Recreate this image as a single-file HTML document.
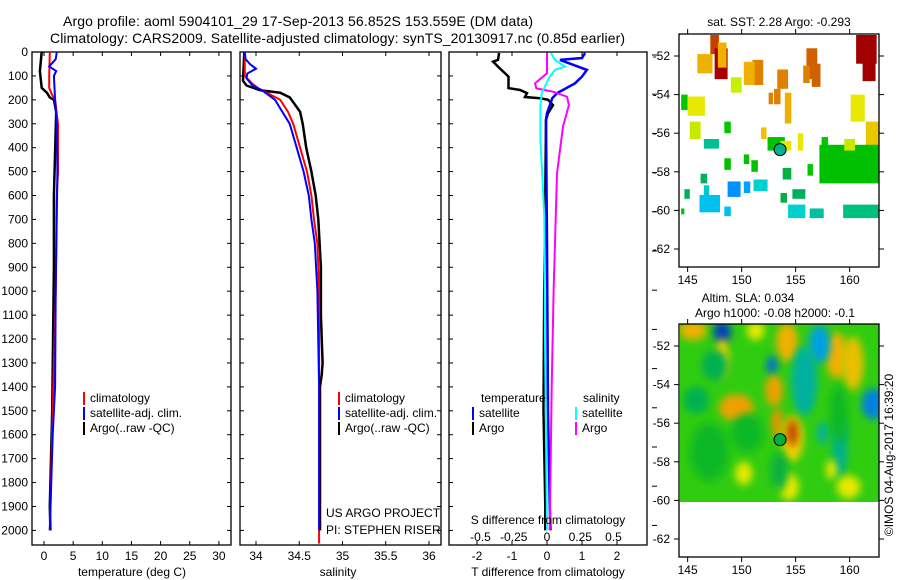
<!DOCTYPE html>
<html><head><meta charset="utf-8"><style>
body{margin:0;background:#fff;}
svg{display:block;font-family:"Liberation Sans",sans-serif;}
text{fill:#000;}
</style></head><body>
<svg id="fig" width="900" height="580" viewBox="0 0 900 580">
<defs><filter id="bl" x="-50%" y="-50%" width="200%" height="200%"><feGaussianBlur stdDeviation="4"/></filter>
<clipPath id="c2"><rect x="680" y="324" width="199" height="178"/></clipPath>
<clipPath id="c1"><rect x="680" y="35" width="199" height="232"/></clipPath></defs>
<text x="63" y="26" font-size="14" textLength="470">Argo profile: aoml 5904101_29 17-Sep-2013 56.852S 153.559E (DM data)</text>
<text x="50" y="43" font-size="14" textLength="575">Climatology: CARS2009. Satellite-adjusted climatology: synTS_20130917.nc (0.85d earlier)</text>
<g id="plots"></g>
</svg>
<script>
// ---- data ----
const tempDepth_argo=[0,80,150,170,190,200,250,600,900,1500,1900,2000];
const temp_argo=[-0.4,-0.7,-0.4,0.5,1.0,1.7,2.1,1.7,1.7,1.4,1.0,1.1];
const tempDepth_clim=[0,100,150,180,200,300,500,600,1000,1500,2000];
const temp_clim=[1.0,0.9,0.9,1.4,1.9,2.4,2.4,2.2,2.0,1.5,1.0];
const tempDepth_sat=[0,30,60,80,100,200,300,500,1000,1400,1600,2000];
const temp_sat=[2.2,2.0,0.9,2.1,1.7,1.9,2.2,2.3,2.0,1.9,1.5,1.0];
const salDepth_argo=[0,120,140,160,170,190,210,250,300,400,500,600,700,900,1100,1300,1350,1400,2000];
const sal_argo=[33.865,33.85,33.89,34.05,34.28,34.39,34.43,34.51,34.54,34.58,34.64,34.69,34.72,34.75,34.75,34.77,34.76,34.74,34.74];
const salDepth_clim=[0,100,130,150,200,250,300,400,500,600,700,800,900,1000,2055];
const sal_clim=[33.87,33.87,33.95,34.02,34.28,34.37,34.43,34.51,34.59,34.64,34.67,34.71,34.72,34.73,34.73];
const salDepth_sat=[0,30,50,70,90,110,140,160,200,300,400,500,600,700,800,1000,1400,2000];
const sal_sat=[33.87,33.88,33.93,34.0,33.9,33.89,33.96,34.07,34.22,34.39,34.47,34.55,34.61,34.64,34.68,34.71,34.73,34.73];
const dDepth_Targo=[4,33,40,61,103,151,159,172,188,193,200,222,256,284,600,1000,1500,1900,2000];
const dT_argo=[-1.37,-1.4,-1.54,-1.4,-1.1,-1.1,-0.77,-0.57,-0.63,-0.2,0.03,0.17,0.03,-0.03,-0.05,-0.08,-0.1,-0.05,-0.05];
const dDepth_Tsat=[4,25,33,75,103,131,172,193,256,284,800,1500,1900,2000];
const dT_sat=[1.09,1.0,0.37,1.14,1.0,0.8,0.29,0.15,0.0,-0.03,0.0,0.03,0.08,0.1];
const dDepth_Sargo=[4,89,131,152,166,187,222,312,507,1000,1400,2000];
const dS_argo=[0.0,0.0,-0.09,-0.08,0.045,0.15,0.165,0.12,0.075,0.05,0.035,0.02];
const dDepth_Ssat=[4,33,61,75,103,172,228,368,575,687,1200,2000];
const dS_sat=[0.03,0.06,0.135,0.06,0.02,-0.04,-0.05,-0.05,-0.03,-0.02,-0.015,0.0];
const depthTicks=[0,100,200,300,400,500,600,700,800,900,1000,1100,1200,1300,1400,1500,1600,1700,1800,1900,2000];
const tempTicks=[0,5,10,15,20,25,30];
const salTicks=[34,34.5,35,35.5,36];
const salTickLabels=["34","34.5","35","35.5","36"];
const dTTicks=[-2,-1,0,1,2];
const dSTicks=[-0.5,-0.25,0,0.25,0.5];
const dSTickLabels=["-0.5","-0.25","0","0.25","0.5"];
const latTicks=[-52,-54,-56,-58,-60,-62];
const lonTicks=[145,150,155,160];
// SST obs patches: [lon0, lat0(top), widthDeg, heightDeg, color]
const sstLon=[160.6,161.2,147.1,147.5,145.9,151.0,153.3,156.0,155.7,153.0,154.0,152.5,149.0,144.4,145.0,160.1,161.5,145.2,148.4,152.4,151.8,153.6,155.2,157.4,157.2,159.5,146.5,148.4,150.2,150.9,153.8,146.2,146.5,144.7,154.7,156.1,153.6,148.7,150.2,151.1,146.1,148.4,154.3,156.3,159.4,144.4,147.8,150.2,156.5];
const sstLat=[-50.9,-52.3,-50.9,-51.6,-51.9,-52.2,-52.7,-51.6,-52.5,-53.7,-53.9,-53.9,-53.1,-54.0,-54.1,-54.0,-55.4,-55.4,-55.4,-56.2,-55.7,-56.4,-56.0,-56.2,-56.6,-56.3,-56.3,-57.3,-57.1,-57.4,-57.8,-58.1,-58.7,-58.9,-58.9,-57.6,-59.1,-58.5,-58.5,-58.4,-59.2,-59.8,-59.7,-59.9,-59.7,-59.9,-51.3,-52.3,-52.4];
const sstW=[1.9,1.2,0.8,1.2,1.4,1.0,1.0,1.0,0.6,0.6,0.6,0.4,1.0,0.6,1.6,1.3,1.2,1.0,0.6,1.6,0.5,1.0,0.5,0.6,5.6,1.0,1.4,0.6,0.5,0.6,0.8,0.6,0.5,0.5,1.2,0.5,0.6,1.2,0.6,1.3,1.9,0.6,1.6,1.3,3.3,0.3,0.8,1.0,0.8];
const sstH=[1.5,1.0,1.0,1.6,1.0,1.3,1.0,1.6,0.9,0.8,1.6,0.6,0.8,0.8,1.0,1.4,1.8,0.9,0.6,0.7,0.6,0.5,0.9,0.6,2.0,0.6,0.5,0.6,0.5,0.6,0.6,0.5,0.6,0.5,0.5,0.6,0.5,0.8,0.6,0.6,0.9,0.5,0.7,0.5,0.7,0.3,1.3,1.2,1.2];
const sstC=["#a00000","#a00000","#c84000","#a80000","#f0b000","#e08000","#e08000","#d06000","#e08000","#e08000","#f0b000","#e08000","#c8f000","#00c800","#e8e800","#e8e800","#e8c800","#c8e800","#00c800","#00c000","#f0c000","#e8e800","#e8e800","#00c800","#00c000","#c8e800","#00c090","#00c000","#00c000","#00c000","#00b040","#00b060","#00c8c8","#00b060","#00b060","#00c800","#00b040","#0090ff","#00a0ff","#00d0d0","#00c0f0","#00c0f0","#00d0d0","#00c0a0","#00c080","#00c000","#f0b000","#f0b000","#d06000"];
// SLA anomaly blobs: [lon, lat, rxDeg, ryDeg, color]
const slaLon=[145.5,148.2,148.2,151.3,154.2,158.8,157.2,155.8,152.8,160.3,149.5,153.0,153.3,154.7,154.7,162.2,159.1,157.5,150.2,154.4,159.9,158.3,145.8,147.5,147.0,150.5,153.5,159.0];
const slaLat=[-51.2,-51.3,-52.6,-51.2,-51.8,-52.5,-51.9,-53.8,-53.0,-52.9,-55.2,-54.3,-56.0,-56.8,-56.5,-55.0,-57.2,-56.5,-58.6,-59.3,-59.3,-58.4,-54.8,-53.0,-57.5,-56.5,-58.5,-55.5];
const slaRx=[1.3,0.8,0.6,0.8,1.0,1.0,1.0,1.2,0.5,1.0,1.6,0.8,0.5,1.0,0.5,1.1,0.7,0.5,0.8,0.9,1.1,0.5,1.2,1.2,1.8,1.5,0.8,0.8];
const slaRy=[0.5,0.6,1.0,0.5,1.0,1.2,1.0,1.8,0.5,1.4,0.7,0.8,0.8,1.2,0.7,0.8,1.6,0.6,0.6,0.7,0.6,0.5,0.7,0.8,1.5,1.0,1.0,1.5];
const slaC=["#f0b000","#0040c0","#f0d000","#e8e800","#f0b000","#f0b000","#00a0e0","#00b0a0","#0070d0","#e8c000","#f0a000","#f0a000","#f09000","#f0d000","#c04000","#0080e0","#00b090","#00b0a0","#e8e800","#e8e800","#e8e800","#e8e800","#00b050","#00b050","#10b828","#10b828","#10b040","#10b828"];
const argoLon=153.559, argoLat=-56.852;

// ---- drawing ----
const NS='http://www.w3.org/2000/svg';
const root=document.getElementById('plots');
function mk(tag,attrs,parent){const e=document.createElementNS(NS,tag);for(const k in attrs)e.setAttribute(k,attrs[k]);(parent||root).appendChild(e);return e;}
function txt(x,y,s,size,anchor,parent){const e=mk('text',{x:x,y:y,'font-size':size||13,'text-anchor':anchor||'start'},parent);e.textContent=s;return e;}
const Y0=52,YS=0.2392,YB=545;
const yD=d=>Y0+YS*d;
const xT=t=>44+5.83*t;
const xS=s=>256+86.5*(s-34);
const xDT=t=>547+35*t;
const xDS=s=>547+133*s;
function line(xs,ds,fx,color,w,name){
  const pts=xs.map((v,i)=>fx(v).toFixed(1)+','+yD(ds[i]).toFixed(1)).join(' ');
  const p=mk('polyline',{points:pts,fill:'none',stroke:color,'stroke-width':w||2});
  
  
}
function frame(x0,x1,name){
  const r=mk('rect',{x:x0,y:Y0,width:x1-x0,height:YB-Y0,fill:'none',stroke:'#000','stroke-width':1.3});
  
  
}
function xticks(vals,f,labels,y,name){
  const g=mk('g',{});
  
  
  vals.forEach((v,i)=>{const x=f(v);mk('line',{x1:x,x2:x,y1:Y0,y2:Y0+4,stroke:'#000'},g);mk('line',{x1:x,x2:x,y1:YB,y2:YB-4,stroke:'#000'},g);if(labels)txt(x,y,labels[i],12,'middle',g);});
}
// panel 1
frame(32,231,'temperature-panel');
const yt=mk('g',{});


depthTicks.forEach(d=>{const y=yD(d);mk('line',{x1:32,x2:36,y1:y,y2:y,stroke:'#000'},yt);mk('line',{x1:227,x2:231,y1:y,y2:y,stroke:'#000'},yt);txt(28,y+4,String(d),12,'end',yt);});
xticks(tempTicks,xT,tempTicks.map(String),560,'temperature-x-axis');
line(temp_argo,tempDepth_argo,xT,'#000',2.5,'argo-temperature-line');
line(temp_clim,tempDepth_clim,xT,'#f00',2,'climatology-temperature-line');
line(temp_sat,tempDepth_sat,xT,'#00f',2,'satellite-temperature-line');
txt(132,576,'temperature (deg C)',12,'middle');
function legend(x,y,items,name){
  const g=mk('g',{});
  
  
  items.forEach((it,i)=>{mk('rect',{x:x,y:y+i*15-10,width:2,height:13,fill:it[1]},g);txt(x+7,y+i*15,it[0],12,'start',g);});
}
legend(83,402,[['climatology','#f00'],['satellite-adj. clim.','#00f'],['Argo(..raw -QC)','#000']],'temperature-legend');
// panel 2
frame(240,441,'salinity-panel');
depthTicks.forEach(d=>{const y=yD(d);mk('line',{x1:240,x2:244,y1:y,y2:y,stroke:'#000'});mk('line',{x1:437,x2:441,y1:y,y2:y,stroke:'#000'});});
xticks(salTicks,xS,salTickLabels,560,'salinity-x-axis');
line(sal_argo,salDepth_argo,xS,'#000',2.5,'argo-salinity-line');
line(sal_clim,salDepth_clim,xS,'#f00',2,'climatology-salinity-line');
line(sal_sat,salDepth_sat,xS,'#00f',2,'satellite-salinity-line');
txt(338,576,'salinity',12,'middle');
legend(338,402,[['climatology','#f00'],['satellite-adj. clim.','#00f'],['Argo(..raw -QC)','#000']],'salinity-legend');
txt(326,517,'US ARGO PROJECT',12);
txt(326,534,'PI: STEPHEN RISER',12);
// panel 3
frame(449,647,'difference-panel');
for(let y=55;y<=545;y+=39.2){mk('line',{x1:652,x2:657,y1:y,y2:y,stroke:'#000'});}
depthTicks.forEach(d=>{const y=yD(d);mk('line',{x1:449,x2:453,y1:y,y2:y,stroke:'#000'});});
xticks(dTTicks,xDT,dTTicks.map(String),560,'t-difference-x-axis');
const sg=mk('g',{});


dSTicks.forEach((v,i)=>txt(xDS(v),541,dSTickLabels[i],12,'middle',sg));
line(dT_argo,dDepth_Targo,xDT,'#000',2.5,'argo-t-difference-line');
line(dT_sat,dDepth_Tsat,xDT,'#00f',2.5,'satellite-t-difference-line');
line(dS_argo,dDepth_Sargo,xDS,'#f0f',2,'argo-s-difference-line');
line(dS_sat,dDepth_Ssat,xDS,'#0ff',2,'satellite-s-difference-line');
txt(548,576,'T difference from climatology',12,'middle');
txt(548,524,'S difference from climatology',12,'middle');
txt(481,402,'temperature',12);
txt(583,402,'salinity',12);
legend(472,417,[['satellite','#00f'],['Argo','#000']],'t-difference-legend');
legend(575,417,[['satellite','#0ff'],['Argo','#f0f']],'s-difference-legend');
// maps
const mx=lon=>679+(lon-144.2)*10.8;
const my=(lat,off)=>34+off+(-50.86-lat)*19.3;
function mapAxes(off,name){
  const g=mk('g',{});
  
  
  mk('rect',{x:679,y:34+off,width:200,height:233,fill:'none',stroke:'#000','stroke-width':1.3},g);
  latTicks.forEach(l=>{const y=my(l,off);mk('line',{x1:674,x2:679,y1:y,y2:y,stroke:'#000'},g);mk('line',{x1:879,x2:884,y1:y,y2:y,stroke:'#000'},g);txt(670,y+4,String(l),12,'end',g);});
  lonTicks.forEach(l=>{const x=mx(l);mk('line',{x1:x,x2:x,y1:29+off,y2:34+off,stroke:'#000'},g);mk('line',{x1:x,x2:x,y1:267+off,y2:272+off,stroke:'#000'},g);txt(x,284+off,String(l),12,'middle',g);});
}
const g1=mk('g',{'clip-path':'url(#c1)'});


sstLon.forEach((lon,i)=>{const r=mk('rect',{x:mx(lon),y:my(sstLat[i],0),width:sstW[i]*10.8,height:sstH[i]*19.3,fill:sstC[i]},g1);

});
mk('circle',{cx:mx(argoLon),cy:my(argoLat,0),r:6,fill:'#00b090',stroke:'#000'});
mapAxes(0,'sst-map-axes');
txt(779,26,'sat. SST: 2.28 Argo: -0.293',12,'middle');
const g2=mk('g',{'clip-path':'url(#c2)'});


mk('rect',{x:679,y:324,width:200,height:178,fill:'#30cc10'},g2);
slaLon.forEach((lon,i)=>{const e=mk('ellipse',{cx:mx(lon),cy:my(slaLat[i],290),rx:slaRx[i]*10.8,ry:slaRy[i]*19.3,fill:slaC[i],filter:'url(#bl)'},g2);

});
mk('circle',{cx:mx(argoLon),cy:my(argoLat,290),r:6,fill:'#00b040',stroke:'#000'});
mapAxes(290,'sla-map-axes');
txt(748,302,'Altim. SLA: 0.034',12,'middle');
txt(775,317,'Argo h1000: -0.08 h2000: -0.1',12,'middle');
const cr=txt(0,0,'©IMOS 04-Aug-2017 16:39:20',12,'middle');
cr.setAttribute('transform','translate(893,455) rotate(-90)');

</script>
</body></html>
